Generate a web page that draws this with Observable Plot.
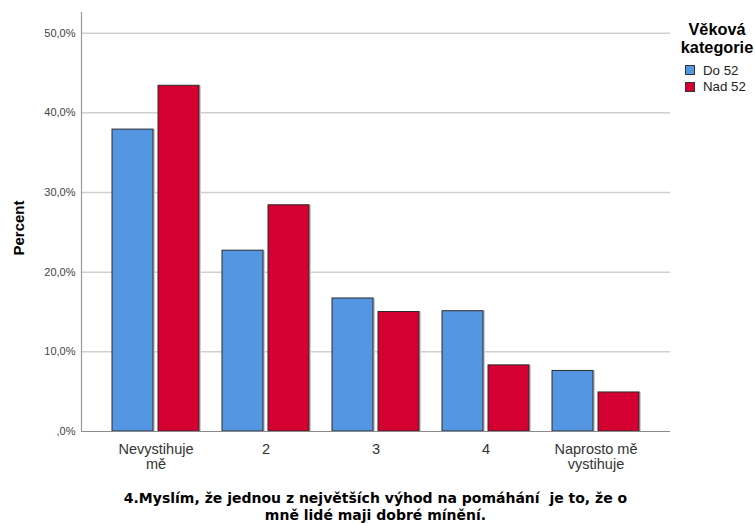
<!DOCTYPE html>
<html><head><meta charset="utf-8">
<script src="https://cdn.jsdelivr.net/npm/d3@7"></script>
<script src="https://cdn.jsdelivr.net/npm/@observablehq/plot@0.6"></script>
<style>
body{margin:0;background:#fff}
#wrap{position:relative;width:755px;height:524px;font-family:"Liberation Sans",Arial,sans-serif;overflow:hidden}
.abs{position:absolute;white-space:pre}
.sw{position:absolute;width:8px;height:8px;border:1px solid #333}
</style></head><body><div id="wrap"></div>
<script>
const categories = ["Nevystihuje\nmě", "2", "3", "4", "Naprosto mě\nvystihuje"];
const seriesNames = ["Do 52", "Nad 52"];
const do52 = [37.9, 22.7, 16.7, 15.1, 7.6];
const nad52 = [43.4, 28.4, 15.0, 8.3, 4.9];
const yTicks = [0, 10, 20, 30, 40, 50];
const colors = ["#5596e3", "#d50032"];
const titleLines = ["4.Myslím, že jednou z největších výhod na pomáhání  je to, že o", "mně lidé maji dobré mínění."];
const yTitle = "Percent";
const legendTitle = ["Věková", "kategorie"];

const rowsDo = categories.map((c, i) => ({cat: c, series: seriesNames[0], value: do52[i]}));
const rowsNad = categories.map((c, i) => ({cat: c, series: seriesNames[1], value: nad52[i]}));
const fmt = d => d === 0 ? ",0%" : d.toFixed(1).replace(".", ",") + "%";

const hasAxis = typeof Plot.axisY === "function";
const marks = [
  Plot.ruleY(yTicks.filter(d => d > 0), {stroke: "#cfcfcf", strokeWidth: 1.5}),
  Plot.barY(rowsDo, {x: "cat", y: "value", fill: "#cfcfcf", insetRight: 46, dx: 2}),
  Plot.barY(rowsNad, {x: "cat", y: "value", fill: "#cfcfcf", insetLeft: 46, dx: 2}),
  Plot.barY(rowsDo, {x: "cat", y: "value", fill: colors[0], stroke: "#2b2b2b", strokeWidth: 1, insetRight: 46}),
  Plot.barY(rowsNad, {x: "cat", y: "value", fill: colors[1], stroke: "#2b2b2b", strokeWidth: 1, insetLeft: 46}),
  Plot.ruleY([0], {stroke: "#8a8a8a", strokeWidth: 1.2}),
  Plot.text(categories, {x: d => d, text: d => d, frameAnchor: "bottom", lineAnchor: "top", dy: 12, lineHeight: 1.04, fontSize: 14.5, fill: "#333"})
];
if (hasAxis) {
  marks.push(Plot.axisY({ticks: yTicks, tickSize: 0, tickPadding: 6, tickFormat: fmt, fontSize: 11, fill: "#444", label: null}));
  marks.push(Plot.frame({anchor: "left", stroke: "#999", strokeWidth: 1.2}));
}
const chart = Plot.plot({
  width: 755, height: 524,
  marginLeft: 81, marginRight: 85, marginTop: 12, marginBottom: 93,
  style: {fontFamily: "Liberation Sans, Arial, sans-serif", background: "transparent", color: "#444", fontSize: "11px"},
  x: {domain: categories, paddingInner: 0.212, paddingOuter: 0.27, axis: null},
  y: hasAxis ? {domain: [0, 52.6], axis: null} : {domain: [0, 52.6], ticks: yTicks, tickSize: 0, tickPadding: 6, tickFormat: fmt, line: true, label: null},
  marks
});
const wrap = document.getElementById("wrap");
wrap.appendChild(chart);
chart.style.position = "absolute"; chart.style.left = "0"; chart.style.top = "0";

function add(html, css) { const d = document.createElement("div"); d.className = "abs"; d.textContent = html; Object.assign(d.style, css); wrap.appendChild(d); return d; }
// x-axis title
add(titleLines[0], {left: "0px", width: "751px", textAlign: "center", top: "491px", fontFamily: "DejaVu Sans", fontWeight: "bold", fontSize: "14px", lineHeight: "15px", color: "#000"});
add(titleLines[1], {left: "0px", width: "751px", textAlign: "center", top: "508px", fontFamily: "DejaVu Sans", fontWeight: "bold", fontSize: "14px", lineHeight: "15px", color: "#000"});
// y title
add(yTitle, {left: "19px", top: "228px", transform: "translate(-50%,-50%) rotate(-90deg)", fontWeight: "bold", fontSize: "15px", lineHeight: "16px", color: "#000"});
// legend
add(legendTitle.join("\n"), {left: "667px", width: "100px", textAlign: "center", top: "20px", fontWeight: "bold", fontSize: "16.3px", lineHeight: "18px", color: "#000"});
seriesNames.forEach((s, i) => {
  const sw = document.createElement("div"); sw.className = "sw";
  Object.assign(sw.style, {left: "685px", top: (65 + i * 16.5) + "px", background: colors[i]});
  wrap.appendChild(sw);
  add(s, {left: "703px", top: (62.5 + i * 16.5) + "px", fontSize: "13.3px", lineHeight: "16px", color: "#222"});
});
</script></body></html>
